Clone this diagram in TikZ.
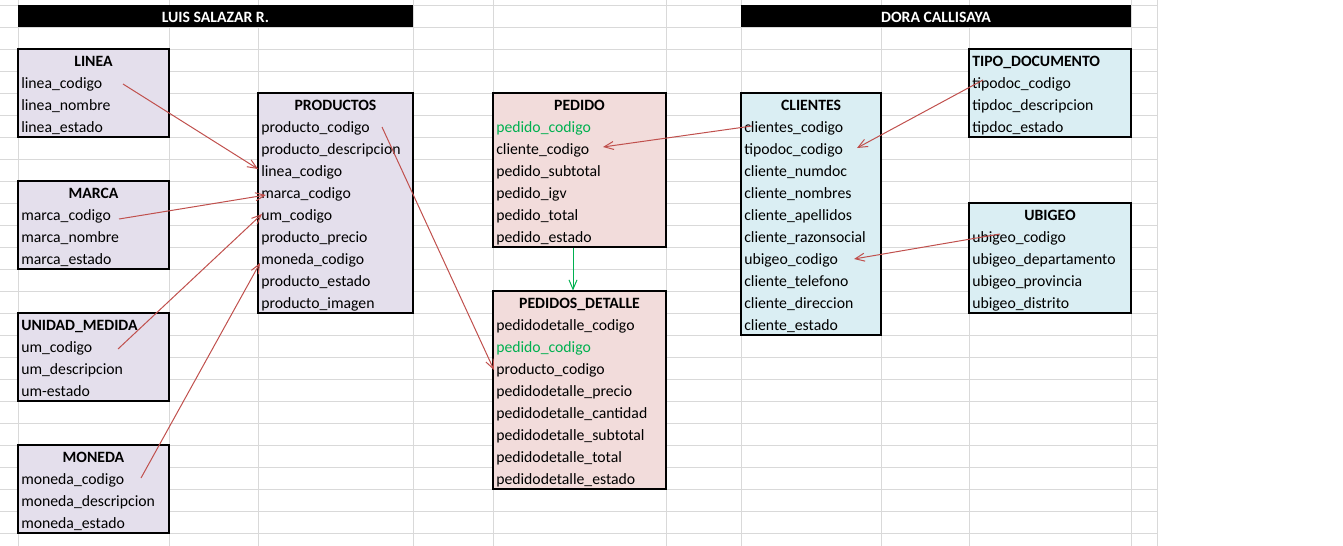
\documentclass[tikz,border=0pt]{standalone}
\usepackage{fontspec}
\setmainfont{Carlito}
\usetikzlibrary{arrows.meta,calc,fit}
\definecolor{lavtab}{HTML}{E4DFEC}
\definecolor{pinktab}{HTML}{F2DCDB}
\definecolor{aquatab}{HTML}{DAEEF3}
\definecolor{gridgray}{HTML}{D9D9D9}
\definecolor{linkred}{HTML}{C0504D}
\definecolor{keygreen}{HTML}{00B050}
\tikzset{
  tabframe/.style={draw=black,line width=0.8pt,inner sep=0pt},
  tabtitle/.style={font=\fontsize{11.8}{14}\selectfont\bfseries,inner sep=0pt,anchor=base},
  field/.style={font=\fontsize{11.8}{14}\selectfont,inner sep=0pt,anchor=base west},
  link/.style={draw=linkred,line width=0.75pt,->},
}
\begin{document}
\begin{tikzpicture}[x=0.75pt,y=-0.75pt,>={Straight Barb[length=7pt,width=6pt]}]
\useasboundingbox (0,0) rectangle (1343,546);
% hoja de calculo
\foreach \y in {5,27,...,533}
  \draw[gridgray,line width=0.75pt] (0,\y) -- (1157,\y);
\foreach \x in {18,169,258,413,493,666,741,881,969,1131,1157}
  \draw[gridgray,line width=0.75pt] (\x,0) -- (\x,546);
% cabeceras
\fill[black] (18,5) rectangle (413,27);
\node[tabtitle,text=white] (luis) at (215.5,22) {LUIS SALAZAR R.};
\fill[black] (741,5) rectangle (1131,27);
\node[tabtitle,text=white] (dora) at (936,22) {DORA CALLISAYA};
% LINEA
\node[tabframe,fill=lavtab,fit={(18,49) (169,137)}] (linea) {};
\node[tabtitle] (lineaT) at (93.5,66) {LINEA};
\foreach \f [count=\i] in {linea\_codigo,linea\_nombre,linea\_estado}
  \node[field] (linea\i) at (21,66+22*\i) {\f};
% PRODUCTOS
\node[tabframe,fill=lavtab,fit={(258,93) (413,313)}] (productos) {};
\node[tabtitle] (prodT) at (335.5,110) {PRODUCTOS};
\foreach \f [count=\i] in {producto\_codigo,producto\_descripcion,linea\_codigo,marca\_codigo,um\_codigo,producto\_precio,moneda\_codigo,producto\_estado,producto\_imagen}
  \node[field] (prod\i) at (261,110+22*\i) {\f};
% MARCA
\node[tabframe,fill=lavtab,fit={(18,181) (169,269)}] (marca) {};
\node[tabtitle] (marcaT) at (93.5,198) {MARCA};
\foreach \f [count=\i] in {marca\_codigo,marca\_nombre,marca\_estado}
  \node[field] (marca\i) at (21,198+22*\i) {\f};
% UNIDAD_MEDIDA
\node[tabframe,fill=lavtab,fit={(18,313) (169,401)}] (umedida) {};
\node[tabtitle,anchor=base west] (umT) at (21,330) {UNIDAD\_MEDIDA};
\foreach \f [count=\i] in {um\_codigo,um\_descripcion,um-estado}
  \node[field] (um\i) at (21,330+22*\i) {\f};
% MONEDA
\node[tabframe,fill=lavtab,fit={(18,445) (169,533)}] (moneda) {};
\node[tabtitle] (monedaT) at (93.5,462) {MONEDA};
\foreach \f [count=\i] in {moneda\_codigo,moneda\_descripcion,moneda\_estado}
  \node[field] (moneda\i) at (21,462+22*\i) {\f};
% PEDIDO
\node[tabframe,fill=pinktab,fit={(493,93) (666,247)}] (pedido) {};
\node[tabtitle] (pedT) at (579.5,110) {PEDIDO};
\foreach \f/\c [count=\i] in {pedido\_codigo/keygreen,cliente\_codigo/black,pedido\_subtotal/black,pedido\_igv/black,pedido\_total/black,pedido\_estado/black}
  \node[field,text=\c] (ped\i) at (496,110+22*\i) {\f};
% PEDIDOS_DETALLE
\node[tabframe,fill=pinktab,fit={(493,291) (666,489)}] (detalle) {};
\node[tabtitle] (detT) at (579.5,308) {PEDIDOS\_DETALLE};
\foreach \f/\c [count=\i] in {pedidodetalle\_codigo/black,pedido\_codigo/keygreen,producto\_codigo/black,pedidodetalle\_precio/black,pedidodetalle\_cantidad/black,pedidodetalle\_subtotal/black,pedidodetalle\_total/black,pedidodetalle\_estado/black}
  \node[field,text=\c] (det\i) at (496,308+22*\i) {\f};
% CLIENTES
\node[tabframe,fill=aquatab,fit={(741,93) (881,335)}] (clientes) {};
\node[tabtitle] (cliT) at (811,110) {CLIENTES};
\foreach \f [count=\i] in {clientes\_codigo,tipodoc\_codigo,cliente\_numdoc,cliente\_nombres,cliente\_apellidos,cliente\_razonsocial,ubigeo\_codigo,cliente\_telefono,cliente\_direccion,cliente\_estado}
  \node[field] (cli\i) at (744,110+22*\i) {\f};
% TIPO_DOCUMENTO
\node[tabframe,fill=aquatab,fit={(969,49) (1131,137)}] (tipodoc) {};
\node[tabtitle,anchor=base west] (tipoT) at (972,66) {TIPO\_DOCUMENTO};
\foreach \f [count=\i] in {tipodoc\_codigo,tipdoc\_descripcion,tipdoc\_estado}
  \node[field] (tipo\i) at (972,66+22*\i) {\f};
% UBIGEO
\node[tabframe,fill=aquatab,fit={(969,203) (1131,313)}] (ubigeo) {};
\node[tabtitle] (ubiT) at (1050,220) {UBIGEO};
\foreach \f [count=\i] in {ubigeo\_codigo,ubigeo\_departamento,ubigeo\_provincia,ubigeo\_distrito}
  \node[field] (ubi\i) at (972,220+22*\i) {\f};
% relaciones
\draw[link] ($(linea1.base west)+(102,-4)$) -- ($(prod3.base west)+(-3,-7)$);
\draw[link] ($(marca1.base west)+(98,-1)$) -- ($(prod4.base west)+(5,-3)$);
\draw[link] ($(um1.base west)+(97,-3)$) -- ($(prod5.base west)+(1,-6)$);
\draw[link] ($(moneda1.base west)+(120,-6)$) -- ($(prod7.base west)+(-1,-1)$);
\draw[link] ($(prod1.base west)+(121,-5)$) -- ($(det3.base west)+(-2,-4)$);
\draw[link] ($(cli1.base west)+(8,-6)$) -- ($(ped2.base west)+(107,-7)$);
\draw[link] ($(tipo1.base west)+(11,-8)$) -- ($(cli2.base west)+(113,-6)$);
\draw[link] ($(ubi1.base west)+(28,-8)$) -- ($(cli7.base west)+(110,-5)$);
\draw[keygreen,line width=0.75pt,->] ($(pedido.south)+(-6.5,0)$) -- ($(detalle.north)+(-6.5,0)$);
\end{tikzpicture}
\end{document}
